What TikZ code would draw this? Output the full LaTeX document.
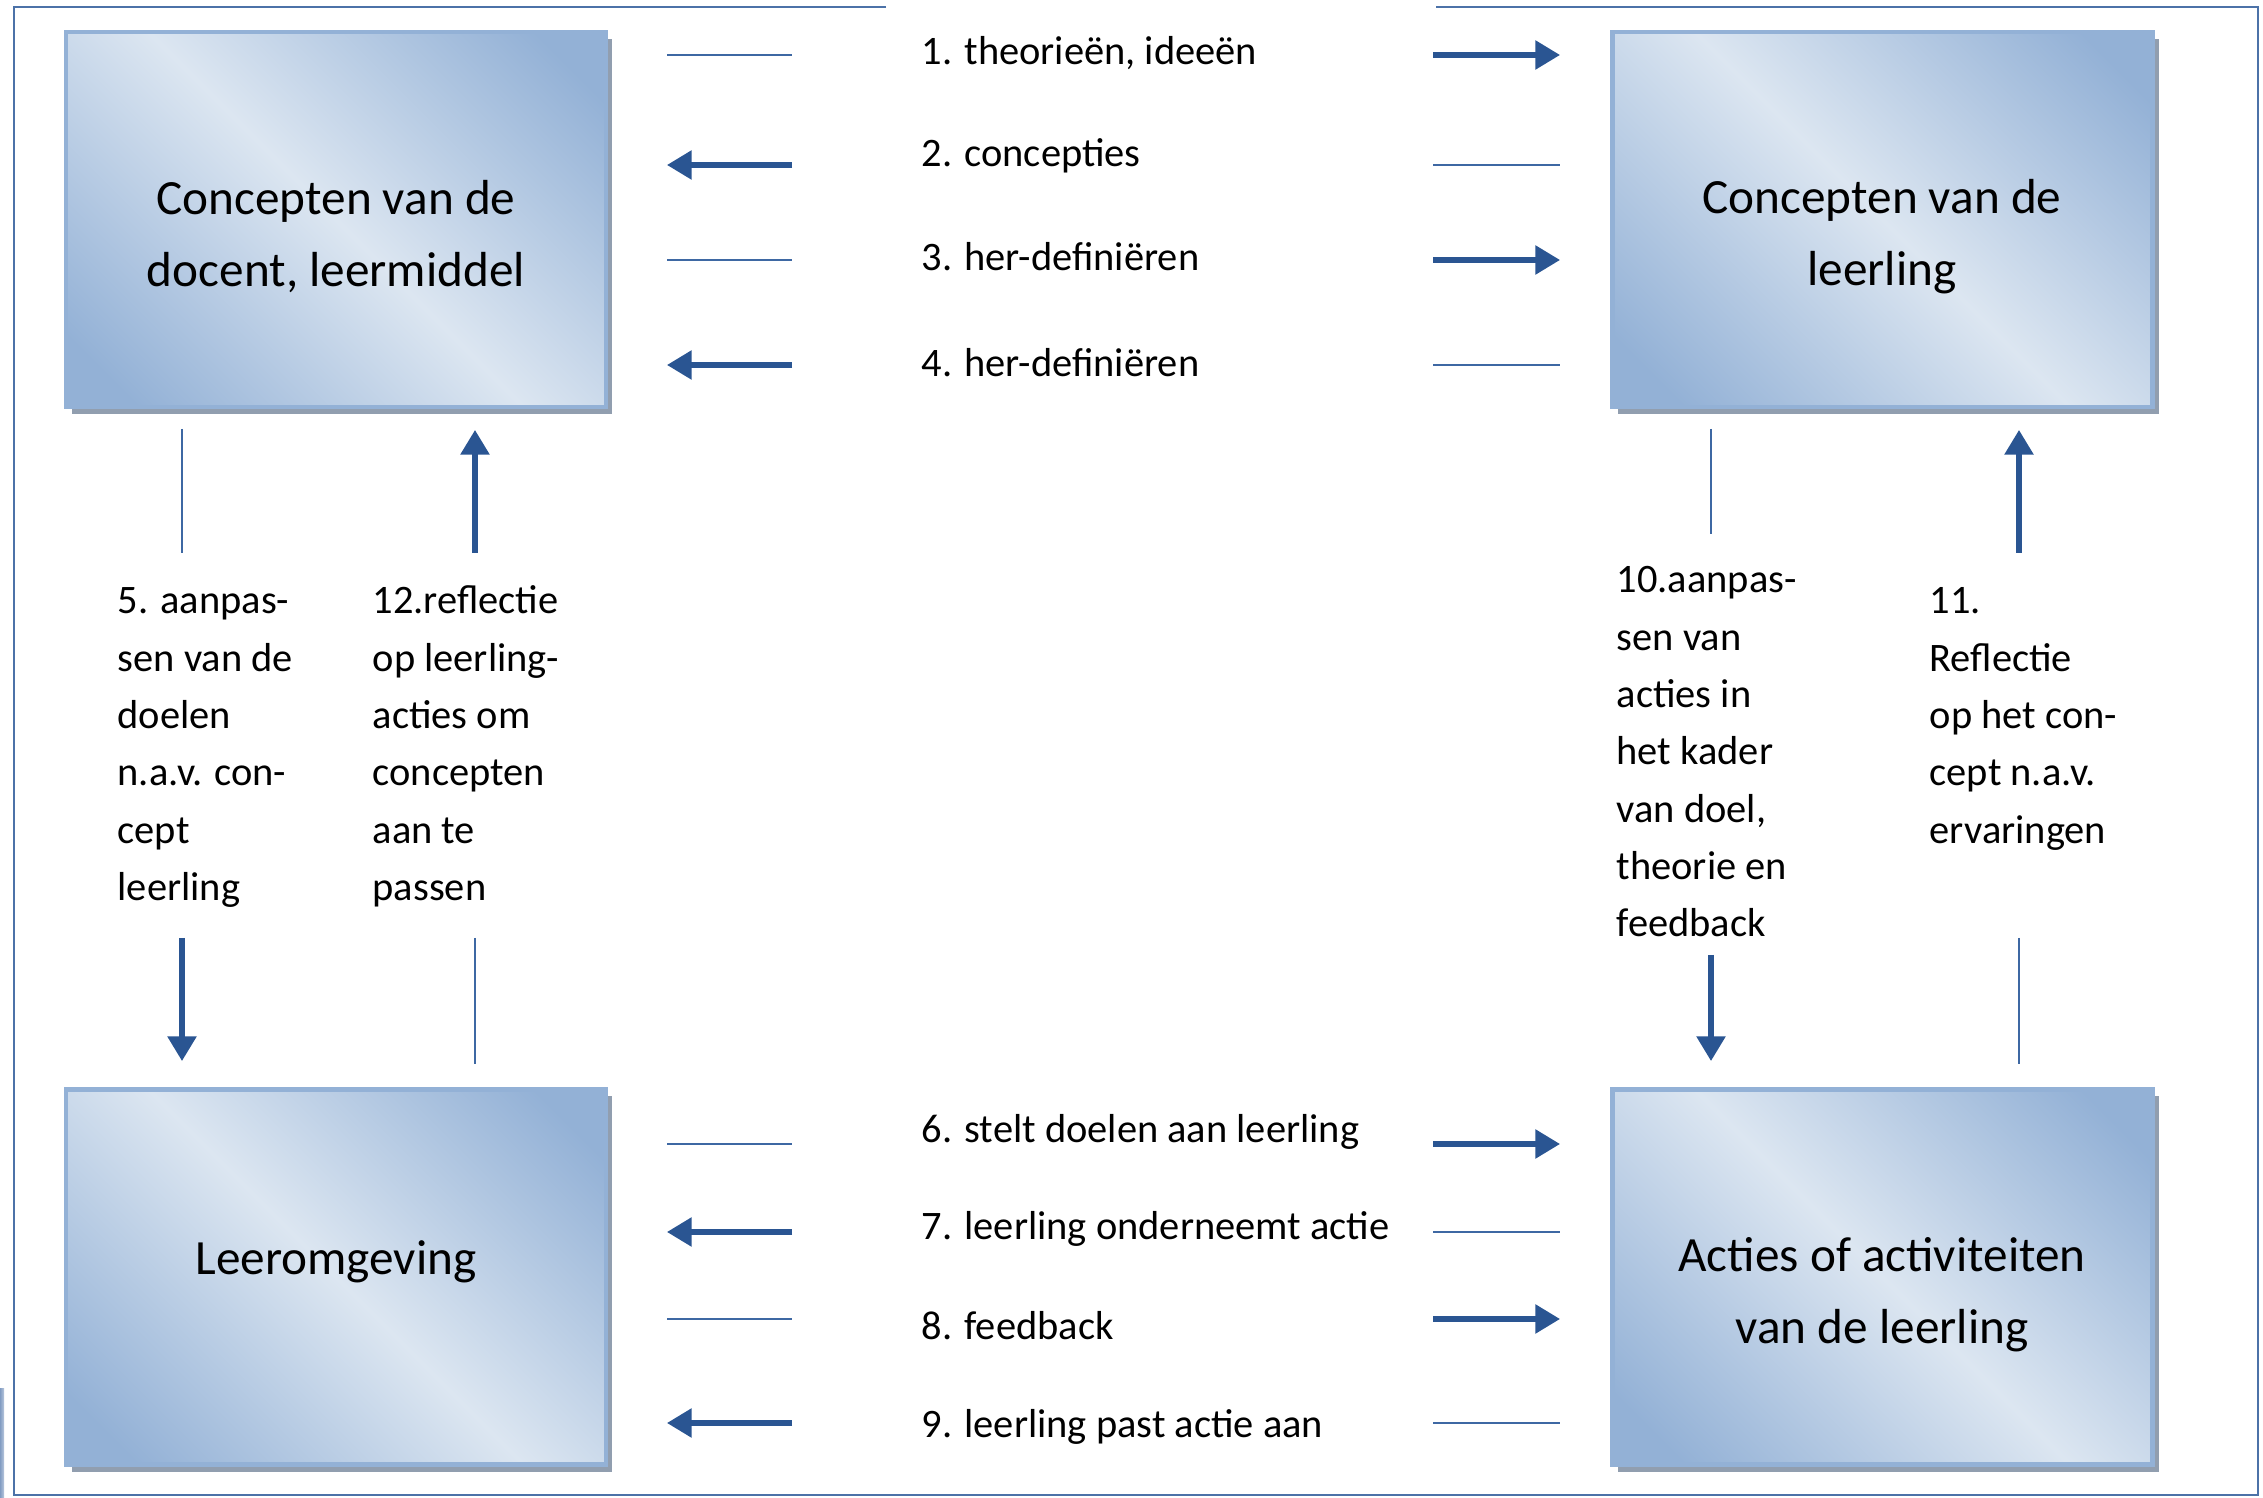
\documentclass[tikz,border=0pt]{standalone}
\usepackage{fontspec}
\setmainfont{Carlito}
\usetikzlibrary{arrows.meta,shadows}
\definecolor{bdark}{HTML}{93B1D6}
\definecolor{blight}{HTML}{DCE6F1}
\definecolor{arr}{HTML}{2A5592}
\definecolor{stubc}{HTML}{3E68A3}
\definecolor{frm}{HTML}{4C72A8}
\definecolor{shd}{HTML}{919EAF}
\pgfdeclareverticalshading{boxshade}{100bp}{color(0bp)=(bdark); color(20bp)=(bdark); color(50bp)=(blight); color(80bp)=(bdark); color(100bp)=(bdark)}
\begin{document}
\begin{tikzpicture}[x=0.01cm,y=-0.01cm,
  boxn/.style={draw=bdark, line width=1.3pt, minimum width=5.4cm, minimum height=3.75cm, inner sep=0pt,
    shading=boxshade, shading angle=-45,
    drop shadow={shadow xshift=0.06cm, shadow yshift=-0.07cm, fill=shd, opacity=1}},
  boxtext/.style={font=\fontsize{14}{20.5}\selectfont, align=center, inner sep=0pt},
  hlab/.style={font=\fontsize{11.5}{14}\selectfont, anchor=west, inner sep=0pt},
  vlab/.style={font=\fontsize{11.5}{16.3}\selectfont, anchor=north west, align=left, inner sep=0pt},
  stub/.style={draw=stubc, line width=0.8pt},
  arrw/.style={draw=arr, line width=1.45pt, -{Triangle[length=7pt,width=8pt]}},
  frame/.style={draw=frm, line width=0.75pt}]
\useasboundingbox (0,0) rectangle (2263,1498);
\fill[white] (0,0) rectangle (2263,1498);

% frame
\coordinate (f1) at (886,7);
\coordinate (f2) at (14,7);
\coordinate (f3) at (14,1495);
\coordinate (f4) at (2258,1495);
\coordinate (f5) at (2258,7);
\coordinate (f6) at (1436,7);
\draw[frame] (f1) -- (f2) -- (f3) -- (f4) -- (f5) -- (f6);
\fill[left color=frm!70, right color=frm!40] (0,1388) rectangle (4,1498);

% boxes
\node[boxn] (tl) at (336,219.5) {};
\node[boxn] (tr) at (1882.5,219.5) {};
\node[boxn] (bl) at (336,1277) {};
\node[boxn] (br) at (1882.5,1277) {};
\node[boxtext] (tlt) at (336,237) {Concepten van de\\docent, leermiddel};
\node[boxtext] (trt) at (1882,237) {Concepten van de\\leerling};
\node[boxtext] (blt) at (336,1262) {Leeromgeving};
\node[boxtext] (brt) at (1882,1295) {Acties of activiteiten\\van de leerling};

% horizontal labels
\node[hlab] (h1) at (921,53) {1. theorieën, ideeën};
\node[hlab] (h2) at (921,156) {2. concepties};
\node[hlab] (h3) at (921,257) {3. her-definiëren};
\node[hlab] (h4) at (921,363) {4. her-definiëren};
\node[hlab] (h6) at (921,1132) {6. stelt doelen aan leerling};
\node[hlab] (h7) at (921,1229) {7. leerling onderneemt actie};
\node[hlab] (h8) at (921,1326) {8. feedback};
\node[hlab] (h9) at (921,1427) {9. leerling past actie aan};

% vertical labels
\node[vlab] (v5) at (117,573) {\strut 5. aanpas-\\sen van de\\doelen\\n.a.v. con-\\cept\\leerling};
\node[vlab] (v12) at (372,573) {\strut 12.reflectie\\op leerling-\\acties om\\concepten\\aan te\\passen};
\node[vlab] (v10) at (1616,552) {\strut 10.aanpas-\\sen van\\acties in\\het kader\\van doel,\\theorie en\\feedback};
\node[vlab] (v11) at (1929,573) {\strut 11.\\Reflectie\\op het con-\\cept n.a.v.\\ervaringen};

% horizontal connector pieces
\foreach \n/\y in {1/55,2/165,3/260,4/365,6/1144,7/1232,8/1319,9/1423}{
  \coordinate (La\n) at (667,\y);
  \coordinate (Lb\n) at (792,\y);
  \coordinate (Ra\n) at (1433,\y);
  \coordinate (Rb\n) at (1560,\y);
}
\draw[stub] (La1) -- (Lb1);  \draw[arrw] (Ra1) -- (Rb1);
\draw[arrw] (Lb2) -- (La2);  \draw[stub] (Ra2) -- (Rb2);
\draw[stub] (La3) -- (Lb3);  \draw[arrw] (Ra3) -- (Rb3);
\draw[arrw] (Lb4) -- (La4);  \draw[stub] (Ra4) -- (Rb4);
\draw[stub] (La6) -- (Lb6);  \draw[arrw] (Ra6) -- (Rb6);
\draw[arrw] (Lb7) -- (La7);  \draw[stub] (Ra7) -- (Rb7);
\draw[stub] (La8) -- (Lb8);  \draw[arrw] (Ra8) -- (Rb8);
\draw[arrw] (Lb9) -- (La9);  \draw[stub] (Ra9) -- (Rb9);

% vertical connector pieces
\coordinate (a5t) at (182,429);  \coordinate (a5m) at (182,553);
\coordinate (a5n) at (182,938);  \coordinate (a5b) at (182,1061);
\coordinate (a12t) at (475,430); \coordinate (a12m) at (475,553);
\coordinate (a12n) at (475,938); \coordinate (a12b) at (475,1064);
\coordinate (a10t) at (1711,429); \coordinate (a10m) at (1711,534);
\coordinate (a10n) at (1711,955); \coordinate (a10b) at (1711,1061);
\coordinate (a11t) at (2019,430); \coordinate (a11m) at (2019,553);
\coordinate (a11n) at (2019,938); \coordinate (a11b) at (2019,1064);
\draw[stub] (a5t) -- (a5m);   \draw[arrw] (a5n) -- (a5b);
\draw[arrw] (a12m) -- (a12t); \draw[stub] (a12n) -- (a12b);
\draw[stub] (a10t) -- (a10m); \draw[arrw] (a10n) -- (a10b);
\draw[arrw] (a11m) -- (a11t); \draw[stub] (a11n) -- (a11b);
\end{tikzpicture}
\end{document}
